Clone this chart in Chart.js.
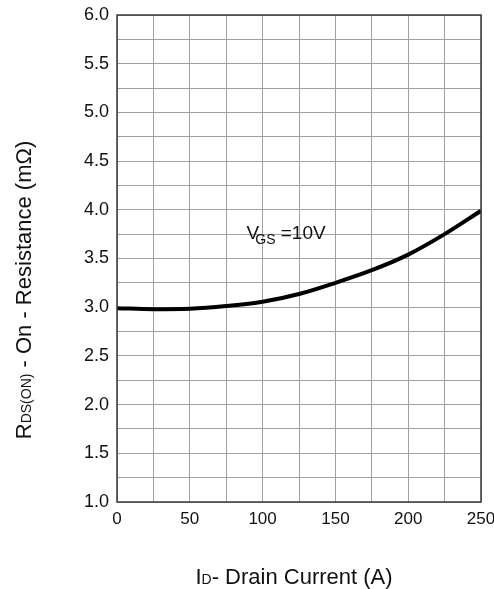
<!DOCTYPE html>
<html>
<head>
<meta charset="utf-8">
<script src="https://cdn.jsdelivr.net/npm/chart.js@4"></script>
<style>
  html, body { margin: 0; padding: 0; background: #fff; }
  #wrap { width: 494px; height: 589px; }
</style>
</head>
<body>
<div id="wrap"><canvas id="rdsChart" width="494" height="589"></canvas></div>
<script>
// drain current (A) and on-resistance (mOhm)
let current = [0, 25, 50, 75, 100, 125, 150, 175, 200, 225, 250]
let rdsOn = [2.99, 2.98, 2.985, 3.012, 3.055, 3.135, 3.25, 3.38, 3.54, 3.75, 3.99]
let xTicks = [0, 50, 100, 150, 200, 250]
let yTicks = [1.0, 1.5, 2.0, 2.5, 3.0, 3.5, 4.0, 4.5, 5.0, 5.5, 6.0]

const FONT = '"Liberation Sans", Arial, sans-serif'

// draws text pieces one after another: [text, size, dy]
let drawParts = (ctx, parts, x, y) => {
  let w = 0
  parts.forEach(p => { ctx.font = p[1] + 'px ' + FONT; w += ctx.measureText(p[0]).width })
  let cx = x - w / 2
  parts.forEach(p => {
    ctx.font = p[1] + 'px ' + FONT
    ctx.fillText(p[0], cx, y + p[2])
    cx += ctx.measureText(p[0]).width
  })
}

const extras = {
  id: 'extras',
  afterDraw(chart) {
    let ctx = chart.ctx
    let a = chart.chartArea
    ctx.save()
    // frame
    ctx.strokeStyle = '#3a3a3a'
    ctx.lineWidth = 1.5
    ctx.strokeRect(a.left, a.top, a.right - a.left, a.bottom - a.top)
    ctx.fillStyle = '#111'
    ctx.textBaseline = 'alphabetic'
    ctx.textAlign = 'left'
    // x title
    drawParts(ctx, [['I', 22, 0], ['D', 14, 0], ['- Drain Current (A)', 22, 0]], 294, 584)
    // annotation
    let ax = chart.scales.x.getPixelForValue(89)
    let ay = chart.scales.y.getPixelForValue(3.70)
    ctx.font = '19px ' + FONT
    ctx.fillText('V', ax, ay)
    let vw = ctx.measureText('V').width
    ctx.font = '14px ' + FONT
    ctx.fillText('GS', ax + vw - 4, ay + 5)
    let gw = ctx.measureText('GS').width
    ctx.font = '19px ' + FONT
    ctx.fillText(' =10V', ax + vw + gw - 4, ay)
    // y title
    ctx.translate(31, 290)
    ctx.rotate(-Math.PI / 2)
    drawParts(ctx, [['R', 22, 0], ['DS(ON)', 14, 0], [' - On - Resistance (m\u03A9)', 22, 0]], 0, 0)
    ctx.restore()
  }
}

new Chart(document.getElementById('rdsChart'), {
  type: 'line',
  data: {
    labels: current,
    datasets: [{
      data: current.map((c, i) => ({ x: c, y: rdsOn[i] })),
      borderColor: '#000',
      borderWidth: 4,
      pointRadius: 0,
      cubicInterpolationMode: 'monotone',
      fill: false
    }]
  },
  options: {
    responsive: false,
    animation: false,
    layout: { padding: { top: 15, right: 13, left: 0, bottom: 0 } },
    plugins: { legend: { display: false }, tooltip: { enabled: false } },
    scales: {
      x: {
        type: 'linear',
        min: 0,
        max: 250,
        afterFit: s => { s.height = 87; s.paddingLeft = 0; s.paddingRight = 0 },
        afterBuildTicks: s => { s.ticks = current.map(v => ({ value: v })) },
        ticks: {
          padding: 7,
          color: '#111',
          font: { family: FONT, size: 17 },
          maxRotation: 0,
          autoSkip: false,
          callback: v => xTicks.includes(v) ? String(v) : ''
        },
        grid: { color: '#a0a0a0', lineWidth: 1, drawTicks: false },
        border: { display: false }
      },
      y: {
        min: 1,
        max: 6,
        afterFit: s => { s.width = 117; s.paddingTop = 0; s.paddingBottom = 0 },
        afterBuildTicks: s => {
          let t = []
          for (let i = 0; i <= 20; i++) t.push({ value: 1 + i * 0.25 })
          s.ticks = t
        },
        ticks: {
          padding: 8,
          color: '#111',
          font: { family: FONT, size: 18 },
          autoSkip: false,
          callback: v => yTicks.some(t => Math.abs(t - v) < 1e-6) ? v.toFixed(1) : ''
        },
        grid: { color: '#a0a0a0', lineWidth: 1, drawTicks: false },
        border: { display: false }
      }
    }
  },
  plugins: [extras]
})
</script>
</body>
</html>
